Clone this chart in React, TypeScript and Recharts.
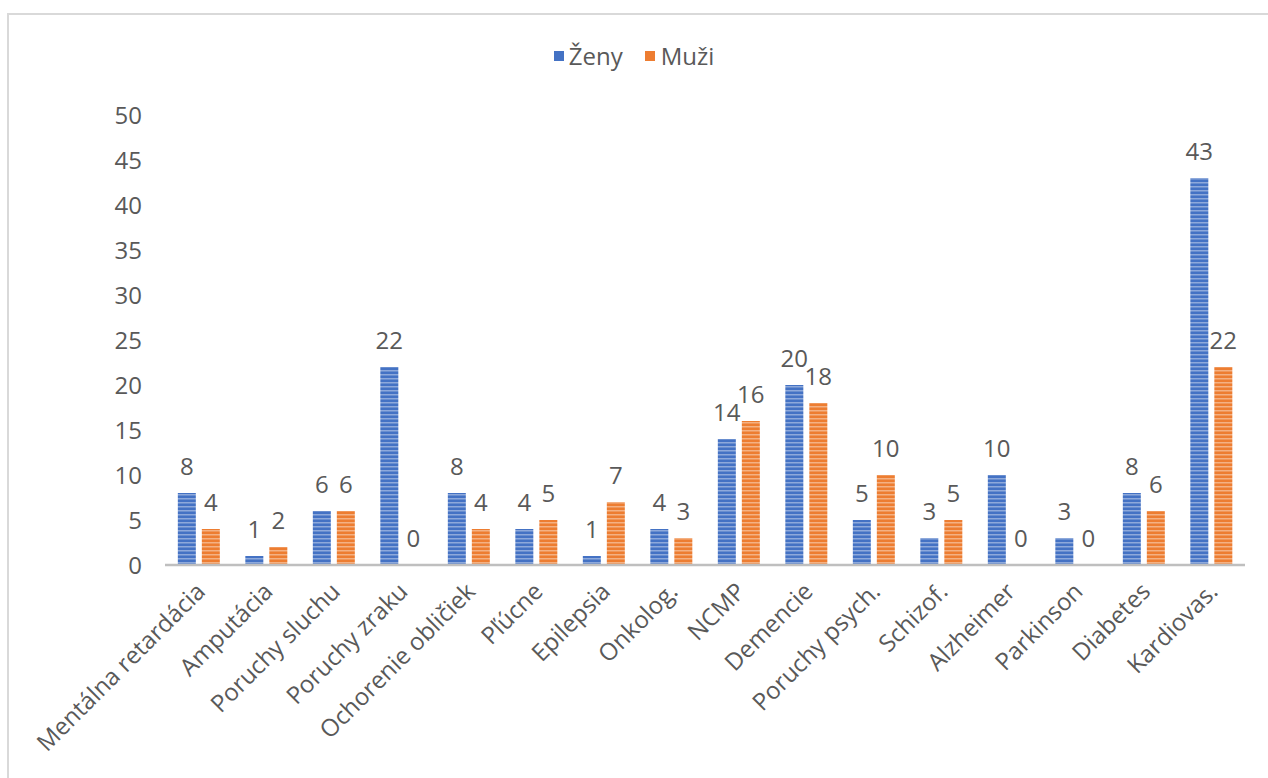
import React from 'react';
import { BarChart, Bar, XAxis, YAxis, Legend, LabelList } from 'recharts';

const categories = [
  'Mentálna retardácia', 'Amputácia', 'Poruchy sluchu', 'Poruchy zraku', 'Ochorenie obličiek',
  'Pľúcne', 'Epilepsia', 'Onkolog.', 'NCMP', 'Demencie', 'Poruchy psych.', 'Schizof.',
  'Alzheimer', 'Parkinson', 'Diabetes', 'Kardiovas.',
];
const zeny = [8, 1, 6, 22, 8, 4, 1, 4, 14, 20, 5, 3, 10, 3, 8, 43];
const muzi = [4, 2, 6, 0, 4, 5, 7, 3, 16, 18, 10, 5, 0, 0, 6, 22];
const yTicks = [0, 5, 10, 15, 20, 25, 30, 35, 40, 45, 50];

const data = categories.map((name, i) => ({ name, zeny: zeny[i], muzi: muzi[i] }));

const FONT = '"Open Sans", sans-serif';
const TEXT = '#595959';
const FS = 24;

const XTick = (props: any) => {
  const { x, y, payload } = props;
  return (
    <text
      x={x + 8}
      y={y + 20}
      transform={`rotate(-45, ${x + 8}, ${y + 20})`}
      textAnchor="end"
      fill={TEXT}
      fontSize={FS}
      fontFamily={FONT}
    >
      {payload.value}
    </text>
  );
};

const LegendContent = () => (
  <div style={{ display: 'flex', justifyContent: 'center', fontFamily: FONT, fontSize: FS, color: TEXT, lineHeight: '24px' }}>
    <span style={{ display: 'flex', alignItems: 'center', marginRight: 22 }}>
      <span style={{ width: 10, height: 10, background: '#4472C4', marginRight: 5 }} />Ženy
    </span>
    <span style={{ display: 'flex', alignItems: 'center' }}>
      <span style={{ width: 10, height: 10, background: '#ED7D31', marginRight: 6 }} />Muži
    </span>
  </div>
);

const App = () => {
  return (
    <div style={{ position: 'absolute', left: 0, top: 0, width: 1268, height: 778, background: '#fff', overflow: 'hidden' }}>
      <div style={{ position: 'absolute', left: 7, top: 13, width: 1300, height: 800, borderLeft: '2px solid #d9d9d9', borderTop: '2px solid #d9d9d9' }} />
      <BarChart
        width={1268}
        height={778}
        data={data}
        margin={{ top: 91, right: 23, bottom: 13, left: 0 }}
        barCategoryGap="19%"
        barGap={6}
        style={{ position: 'absolute', left: 0, top: 0 }}
      >
        <defs>
          <pattern id="stripeBlue" width="6" height="4" patternUnits="userSpaceOnUse">
            <rect width="6" height="4" fill="#4472C4" />
            <rect y="2" width="6" height="1.5" fill="#8EA9DB" />
          </pattern>
          <pattern id="stripeOrange" width="6" height="4" patternUnits="userSpaceOnUse">
            <rect width="6" height="4" fill="#ED7D31" />
            <rect y="2" width="6" height="1.5" fill="#F4B183" />
          </pattern>
        </defs>
        <Legend
          verticalAlign="top"
          height={24}
          content={LegendContent}
          wrapperStyle={{ top: 44, left: 0, width: 1268 }}
        />
        <XAxis
          dataKey="name"
          interval={0}
          height={200}
          tick={XTick}
          tickLine={false}
          axisLine={{ stroke: '#bfbfbf', strokeWidth: 2.5 }}
        />
        <YAxis
          width={165}
          domain={[0, 50]}
          ticks={yTicks}
          axisLine={false}
          tickLine={false}
          tickSize={0}
          tickMargin={23}
          tick={{ fill: TEXT, fontSize: FS, fontFamily: FONT }}
        />
        <Bar dataKey="zeny" fill="url(#stripeBlue)" minPointSize={0.1} isAnimationActive={false}>
          <LabelList dataKey="zeny" position="top" offset={18} fill={TEXT} fontSize={FS} fontFamily={FONT} />
        </Bar>
        <Bar dataKey="muzi" fill="url(#stripeOrange)" minPointSize={0.1} isAnimationActive={false}>
          <LabelList dataKey="muzi" position="top" offset={18} fill={TEXT} fontSize={FS} fontFamily={FONT} />
        </Bar>
      </BarChart>
    </div>
  );
};

export default App;
